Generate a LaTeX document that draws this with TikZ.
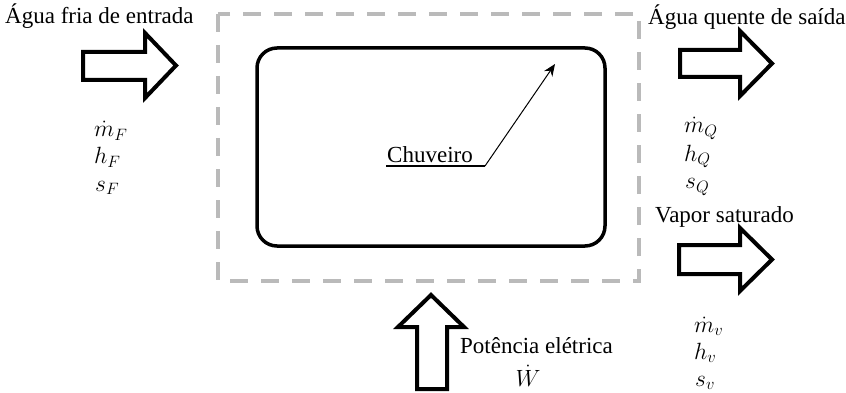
\RequirePackage{fix-cm}
\documentclass[tikz,border=0pt]{standalone}
\usepackage{fontspec}
\setmainfont{Liberation Serif}
\newfontfamily\tnr{Liberation Serif}
\usetikzlibrary{arrows.meta}
\begin{document}
\begin{tikzpicture}[x=1pt,y=-1pt,
  lbl/.style={font=\tnr\fontsize{23}{27}\selectfont, inner sep=0pt, anchor=base west},
  mlbl/.style={font=\fontsize{23.5}{27}\selectfont, inner sep=0pt, anchor=base west},
  blockarrow/.style={draw=black, line width=4pt, fill=white, line join=miter},
  sysbound/.style={draw=black!27, line width=4pt, dash pattern=on 18pt off 13pt},
  unitbox/.style={draw=black, line width=3.5pt, rounded corners=20pt},
  pointer/.style={draw=black, line width=1pt, -{Stealth[length=12pt,width=10pt]}}]
\useasboundingbox (0,0) rectangle (846,393);
% control volume
\draw[sysbound] (218,14) rectangle (639,281);
% shower
\draw[unitbox] (257,48) rectangle (605,246);
\node[lbl] (ch) at (387,162) {Chuveiro};
\coordinate (u1) at (386,166);
\coordinate (u2) at (485,166);
\coordinate (tip) at (555,64);
\draw[line width=1pt] (u1) -- (u2);
\draw[pointer] (u2) -- (tip);
% block arrows
\draw[blockarrow] (83,52) -- (145,52) -- (145,33) -- (176,65.5) -- (145,98) -- (145,80) -- (83,80) -- cycle;
\draw[blockarrow] (680,50) -- (740,50) -- (740,31) -- (772,63.5) -- (740,96) -- (740,77) -- (680,77) -- cycle;
\draw[blockarrow] (679,245) -- (740,245) -- (740,228) -- (772,259.5) -- (740,291) -- (740,274) -- (679,274) -- cycle;
\draw[blockarrow] (431,295) -- (464,327) -- (447,327) -- (447,389) -- (417,389) -- (417,327) -- (398,327) -- cycle;
% labels
\node[lbl] (in) at (5,24) {Água fria de entrada};
\node[lbl] (out) at (648,25) {Água quente de saída};
\node[lbl] (vap) at (655,222) {Vapor saturado};
\node[lbl] (pot) at (460,353) {Potência elétrica};
\node[mlbl, anchor=base] (w) at (528,386) {$\dot W$};
\node[mlbl] (mF) at (94,137) {$\dot m_F$};
\node[mlbl] (hF) at (94,164) {$h_F$};
\node[mlbl] (sF) at (95,191) {$s_F$};
\node[mlbl] (mQ) at (684,133) {$\dot m_Q$};
\node[mlbl] (hQ) at (684,161) {$h_Q$};
\node[mlbl] (sQ) at (685,189) {$s_Q$};
\node[mlbl] (mv) at (694,332) {$\dot m_v$};
\node[mlbl] (hv) at (694,359) {$h_v$};
\node[mlbl] (sv) at (695,386) {$s_v$};
\end{tikzpicture}
\end{document}
